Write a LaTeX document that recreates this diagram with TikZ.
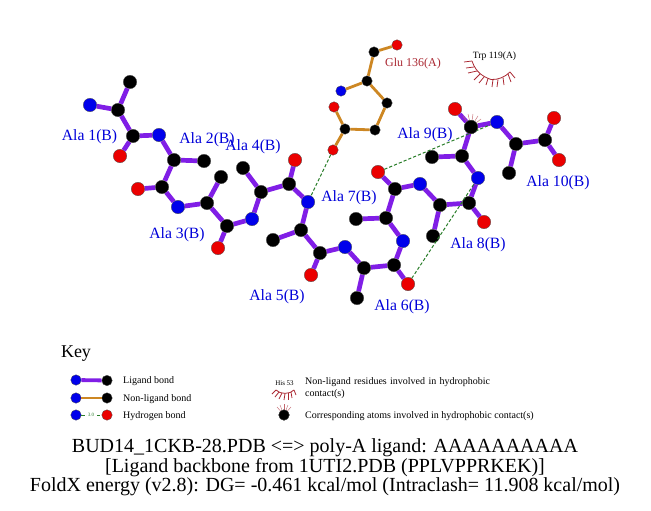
\documentclass[tikz,border=0pt]{standalone}
\usepackage{fontspec}
\setmainfont{Liberation Serif}
\definecolor{lig}{RGB}{128,30,230}
\definecolor{nonlig}{RGB}{205,135,35}
\definecolor{hb}{RGB}{40,125,40}
\definecolor{hyd}{RGB}{170,40,50}
\definecolor{atomN}{RGB}{0,0,235}
\definecolor{atomO}{RGB}{235,0,0}
\tikzset{
  x=1pt,y=-1pt,
  atom/.style={circle,inner sep=0pt,minimum size=#1,draw=black!70,line width=0.3pt},
  cc/.style={atom=13.5pt,fill=black},
  nn/.style={atom=13.5pt,fill=atomN},
  oo/.style={atom=13.5pt,fill=atomO},
  scc/.style={atom=10.5pt,fill=black},
  snn/.style={atom=10.5pt,fill=atomN},
  soo/.style={atom=10.5pt,fill=atomO},
  ligbond/.style={draw=lig,line width=4.7pt},
  nlbond/.style={draw=nonlig,line width=2.8pt},
  hbond/.style={draw=hb,line width=1pt,dash pattern=on 3.2pt off 2pt},
  hydline/.style={draw=hyd,line width=0.8pt},
  hydfine/.style={draw=hyd!70,line width=0.45pt},
  reslabel/.style={text=blue!85!black,font=\fontsize{15.7}{18}\selectfont,inner sep=0pt},
  keytext/.style={font=\fontsize{10}{12}\selectfont,anchor=west,inner sep=0pt},
  title/.style={font=\fontsize{20}{22}\selectfont,inner sep=0pt},
}
\begin{document}
\begin{tikzpicture}
\useasboundingbox (0,0) rectangle (651,511);
% atoms
\foreach \n/\x/\y/\s in {
 a/90/105/nn,b/118/110/cc,c/130/82/cc,d/133/136/cc,e/120/156/oo,
 f/159/135/nn,g/174/160/cc,h/204/161/cc,i/162/187/cc,j/138/189/oo,
 k/178/207/nn,l/207/203/cc,m/221/177/cc,n/227/226/cc,o/218/248/oo,
 p/252/219/nn,q/261/192/cc,r/243/168/cc,s/289/184/cc,t/295/160/oo,
 u/308/202/nn,v/301/230/cc,w/273/240/cc,xa/320/253/cc,xb/311/275/oo,
 xc/345/247/nn,xd/364/268/cc,xe/357/298/cc,xf/394/265/cc,xg/408/284/oo,
 xh/403/241/nn,xi/386/218/cc,xj/356/219/cc,xk/395/189/cc,xl/378/172/oo,
 xm/420/184/nn,xn/440/205/cc,xo/433/236/cc,xp/469/203/cc,xq/484/222/oo,
 xr/478/178/nn,xs/462/156/cc,xt/432/157/cc,xu/471/127/cc,xv/455/109/oo,
 xw/497/122/nn,xx/516/144/cc,xy/509/173/cc,xz/545/140/cc,ya/554/118/oo,yb/559/160/oo,
 za/397/45/soo,zb/374/52/scc,zc/367/81/scc,zd/341/91/snn,ze/387/103/scc,
 zf/375/130/scc,zg/345/129/scc,zh/334/107/soo,zi/333/150/soo}
 {\node[\s] (\n) at (\x,\y) {};}
% bonds
\foreach \p/\q in {a/b,b/c,b/d,d/e,d/f,f/g,g/h,g/i,i/j,i/k,k/l,l/m,l/n,n/o,n/p,p/q,q/r,q/s,s/t,s/u,u/v,v/w,v/xa,xa/xb,xa/xc,xc/xd,xd/xe,xd/xf,xf/xg,xf/xh,xh/xi,xi/xj,xi/xk,xk/xl,xk/xm,xm/xn,xn/xo,xn/xp,xp/xq,xp/xr,xr/xs,xs/xt,xs/xu,xu/xv,xu/xw,xw/xx,xx/xy,xx/xz,xz/ya,xz/yb}
 {\draw[ligbond] (\p) -- (\q);}
\foreach \p/\q in {za/zb,zb/zc,zc/zd,zc/ze,ze/zf,zf/zg,zg/zh,zg/zi}
 {\draw[nlbond] (\p) -- (\q);}
\draw[hbond] (zi) -- (u);
\draw[hbond] (xl) -- (xw);
\draw[hbond] (xg) -- (xr);
% hydrophobic contact on the Ala 9 atom
\foreach \bx/\by in {463/116,468/114,473/114,478/116,481/119}
 {\draw[hydfine] (xu) -- (\bx,\by);}
\node[cc] at (xu) {};
% labels
\node[reslabel] (l1) at (89.5,137) {Ala 1(B)};
\node[reslabel] (l2) at (207,140) {Ala 2(B)};
\node[reslabel] (l3) at (177,235) {Ala 3(B)};
\node[reslabel] (l4) at (253,147) {Ala 4(B)};
\node[reslabel] (l5) at (277,297) {Ala 5(B)};
\node[reslabel] (l6) at (402,307) {Ala 6(B)};
\node[reslabel] (l7) at (349,198) {Ala 7(B)};
\node[reslabel] (l8) at (478,245) {Ala 8(B)};
\node[reslabel] (l9) at (425,135) {Ala 9(B)};
\node[reslabel] (l10) at (558,183) {Ala 10(B)};
\node[text=hyd,font=\fontsize{12}{14}\selectfont,inner sep=0pt] (glu) at (413,64) {Glu 136(A)};
\node[font=\fontsize{9.6}{11}\selectfont,inner sep=0pt] (trp) at (494.5,56.5) {Trp 119(A)};
% eyelash residue
\draw[hydline] (472,61) .. controls (476,73) and (484,77) .. (491,79.5) .. controls (498,80) and (505,77) .. (510,72);
\foreach \ax/\ay/\bx/\by in {472/61/464/62,474/67/466/68,477/71/468/73,480/74/474/80,484/77/479/83,488/78.5/486/85,493/79.5/492/87,498/79.5/497/87,503/77.5/504/85,508/74/511/82,510/72/515/78}
 {\draw[hydline] (\ax,\ay) -- (\bx,\by);}
% key
\node[font=\fontsize{18}{20}\selectfont,inner sep=0pt] (key) at (76,354) {Key};
\node[atom=10.5pt,fill=atomN] (ka) at (76,380) {};
\node[atom=10.5pt,fill=black] (kb) at (107,380.5) {};
\draw[draw=lig,line width=3.8pt] (ka) -- (kb);
\node[atom=10.5pt,fill=atomN] (kc) at (76,398) {};
\node[atom=10.5pt,fill=black] (kd) at (107,398) {};
\draw[draw=nonlig,line width=2.4pt] (kc) -- (kd);
\node[atom=10.5pt,fill=atomN] (ke) at (76,415) {};
\node[atom=10.5pt,fill=atomO] (kf) at (107,415) {};
\draw[hbond,line width=0.9pt] (ke) -- (kf);
\node[font=\fontsize{5}{6}\selectfont,text=hb,fill=white,inner sep=0.4pt] (kh) at (91,415) {3.0};
\node[keytext] (t1) at (123,381) {Ligand bond};
\node[keytext] (t2) at (123,399) {Non-ligand bond};
\node[keytext] (t3) at (123,416) {Hydrogen bond};
\node[font=\fontsize{7}{8}\selectfont,inner sep=0pt] (his) at (284.5,383) {His 53};
\draw[hydline] (276,390) .. controls (280,394.5) and (290,394.5) .. (294,390);
\foreach \ax/\ay/\bx/\by in {276/390/272/394,279/392/275/397,282/393/279/399,285/393.5/284/400,288/393/288/400,291/392/292/398,294/390/296/395}
 {\draw[hydline] (\ax,\ay) -- (\bx,\by);}
\node[keytext,align=left,text width=230pt] (t4) at (305,388.5) {Non-ligand residues involved in hydrophobic\\contact(s)};
\node[atom=10.5pt,fill=black] (kg) at (284,415) {};
\foreach \bx/\by in {277/407,280/405,284/404,288/405,291/407}
 {\draw[hydfine] (kg) -- (\bx,\by);}
\node[atom=10.5pt,fill=black] at (kg) {};
\node[keytext] (t5) at (305,416) {Corresponding atoms involved in hydrophobic contact(s)};
% title
\node[title] (tt1) at (325,447.5) {BUD14\_1CKB-28.PDB <=> poly-A ligand: AAAAAAAAAA};
\node[title] (tt2) at (325,467.5) {[Ligand backbone from 1UTI2.PDB (PPLVPPRKEK)]};
\node[title] (tt3) at (325,486.5) {FoldX energy (v2.8): DG= -0.461 kcal/mol (Intraclash= 11.908 kcal/mol)};
\end{tikzpicture}
\end{document}
